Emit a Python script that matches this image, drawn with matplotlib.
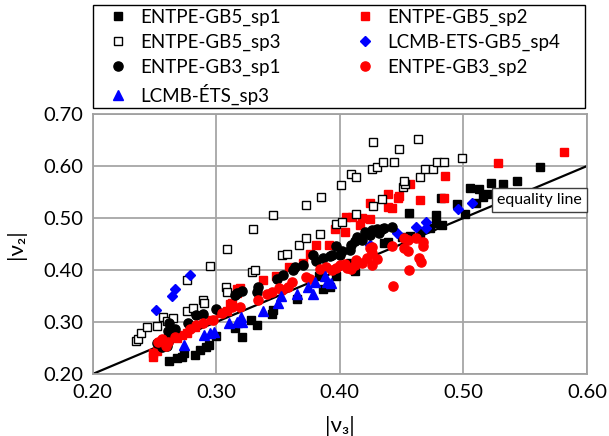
import matplotlib.pyplot as plt
from matplotlib.patches import Rectangle

plt.rcParams['font.family'] = ['Lato', 'DejaVu Sans']

# ENTPE-GB5_sp1 (filled black squares)
gb5_sp1_v3 = [0.262, 0.268, 0.272, 0.274, 0.283, 0.287, 0.292, 0.294, 0.300, 0.315, 0.321, 0.328,
              0.333, 0.345, 0.346, 0.365, 0.383, 0.386, 0.392, 0.397, 0.408, 0.412, 0.436, 0.439,
              0.450, 0.456, 0.457, 0.465, 0.473, 0.478, 0.478, 0.483, 0.482, 0.495, 0.501, 0.505,
              0.510, 0.513, 0.516, 0.519, 0.522, 0.532, 0.543, 0.562]
gb5_sp1_v2 = [0.225, 0.231, 0.233, 0.240, 0.237, 0.246, 0.252, 0.256, 0.273, 0.288, 0.271, 0.304,
              0.294, 0.315, 0.323, 0.344, 0.388, 0.363, 0.367, 0.388, 0.413, 0.398, 0.452, 0.454,
              0.463, 0.510, 0.465, 0.471, 0.481, 0.506, 0.490, 0.487, 0.538, 0.527, 0.508, 0.558,
              0.529, 0.556, 0.540, 0.546, 0.567, 0.565, 0.571, 0.598]

# ENTPE-GB5_sp2 (filled red squares)
gb5_sp2_v3 = [0.249, 0.249, 0.252, 0.254, 0.257, 0.268, 0.272, 0.276, 0.283, 0.296, 0.303, 0.309,
              0.311, 0.313, 0.317, 0.317, 0.319, 0.338, 0.348, 0.359, 0.370, 0.376, 0.381, 0.391,
              0.396, 0.404, 0.405, 0.410, 0.416, 0.418, 0.424, 0.424, 0.439, 0.439, 0.442, 0.447,
              0.448, 0.457, 0.465, 0.484, 0.485, 0.528, 0.581]
gb5_sp2_v2 = [0.233, 0.240, 0.244, 0.252, 0.265, 0.269, 0.275, 0.279, 0.290, 0.304, 0.317, 0.321,
              0.335, 0.337, 0.363, 0.356, 0.365, 0.381, 0.388, 0.406, 0.413, 0.431, 0.448, 0.448,
              0.479, 0.473, 0.502, 0.502, 0.487, 0.500, 0.498, 0.529, 0.546, 0.521, 0.519, 0.538,
              0.542, 0.565, 0.535, 0.538, 0.581, 0.606, 0.627]

# ENTPE-GB5_sp3 (open squares)
gb5_sp3_v3 = [0.235, 0.237, 0.239, 0.244, 0.252, 0.257, 0.260, 0.265, 0.276, 0.281, 0.289, 0.290,
              0.276, 0.295, 0.308, 0.309, 0.309, 0.330, 0.329, 0.331, 0.346, 0.353, 0.357, 0.367,
              0.373, 0.373, 0.384, 0.385, 0.397, 0.402, 0.401, 0.409, 0.413, 0.413, 0.426, 0.430,
              0.427, 0.435, 0.444, 0.448, 0.451, 0.453, 0.463, 0.465, 0.469, 0.475, 0.479, 0.484,
              0.499, 0.434, 0.427, 0.452]
gb5_sp3_v2 = [0.263, 0.267, 0.279, 0.290, 0.292, 0.310, 0.302, 0.308, 0.321, 0.327, 0.342, 0.337,
              0.381, 0.408, 0.367, 0.358, 0.440, 0.479, 0.396, 0.400, 0.506, 0.429, 0.431, 0.448,
              0.462, 0.525, 0.469, 0.540, 0.488, 0.492, 0.563, 0.585, 0.579, 0.508, 0.594, 0.598,
              0.646, 0.608, 0.608, 0.633, 0.560, 0.565, 0.652, 0.579, 0.594, 0.594, 0.608, 0.608,
              0.615, 0.537, 0.523, 0.571]

# LCMB-ETS-GB5_sp4 (blue diamonds)
ets_sp4_v3 = [0.251, 0.264, 0.267, 0.279, 0.424, 0.446, 0.462, 0.470, 0.470, 0.496, 0.507]
ets_sp4_v2 = [0.323, 0.350, 0.363, 0.390, 0.448, 0.471, 0.483, 0.492, 0.481, 0.517, 0.529]

# ENTPE-GB3_sp1 (black circles)
gb3_sp1_v3 = [0.252, 0.256, 0.260, 0.260, 0.261, 0.261, 0.262, 0.265, 0.267, 0.277, 0.284, 0.289,
              0.300, 0.315, 0.317, 0.321, 0.333, 0.334, 0.349, 0.354, 0.362, 0.364, 0.370, 0.378,
              0.381, 0.386, 0.392, 0.394, 0.397, 0.400, 0.402, 0.408, 0.409, 0.412, 0.414, 0.418,
              0.420, 0.426, 0.430, 0.432, 0.434, 0.436, 0.442, 0.424]
gb3_sp1_v2 = [0.260, 0.252, 0.254, 0.269, 0.262, 0.283, 0.298, 0.279, 0.287, 0.298, 0.313, 0.315,
              0.325, 0.352, 0.356, 0.360, 0.358, 0.367, 0.383, 0.390, 0.400, 0.406, 0.410, 0.429,
              0.417, 0.423, 0.427, 0.429, 0.446, 0.429, 0.437, 0.438, 0.448, 0.456, 0.463, 0.458,
              0.473, 0.477, 0.479, 0.471, 0.479, 0.481, 0.483, 0.467]

# ENTPE-GB3_sp2 (red circles)
gb3_sp2_v3 = [0.253, 0.256, 0.259, 0.261, 0.267, 0.279, 0.284, 0.289, 0.297, 0.305, 0.313, 0.319,
              0.334, 0.341, 0.345, 0.351, 0.353, 0.358, 0.361, 0.373, 0.376, 0.384, 0.389, 0.394,
              0.397, 0.400, 0.404, 0.405, 0.406, 0.409, 0.412, 0.413, 0.418, 0.422, 0.424, 0.426,
              0.426, 0.426, 0.430, 0.442, 0.443, 0.452, 0.452, 0.455, 0.455, 0.456, 0.462, 0.464,
              0.466, 0.467, 0.467]
gb3_sp2_v2 = [0.262, 0.267, 0.254, 0.262, 0.271, 0.287, 0.294, 0.298, 0.304, 0.317, 0.329, 0.329,
              0.342, 0.354, 0.358, 0.365, 0.362, 0.367, 0.377, 0.387, 0.383, 0.402, 0.406, 0.400,
              0.404, 0.410, 0.412, 0.408, 0.404, 0.402, 0.410, 0.419, 0.413, 0.423, 0.442, 0.433,
              0.410, 0.444, 0.421, 0.446, 0.369, 0.442, 0.462, 0.437, 0.458, 0.400, 0.462, 0.423,
              0.415, 0.454, 0.446]

# LCMB-ETS_sp3 (blue triangles)
ets_sp3_v3 = [0.274, 0.290, 0.295, 0.298, 0.310, 0.317, 0.320, 0.321, 0.338, 0.350, 0.352, 0.365,
              0.374, 0.378, 0.380, 0.388, 0.390, 0.393]
ets_sp3_v2 = [0.256, 0.275, 0.279, 0.281, 0.298, 0.300, 0.310, 0.300, 0.321, 0.337, 0.350, 0.354,
              0.367, 0.354, 0.377, 0.388, 0.377, 0.375]

W, H = 609, 436
fig = plt.figure(figsize=(W / 100, H / 100), dpi=100)
ax = fig.add_axes([0.1522, 0.1422, 0.8117, 0.5963])

ax.plot([0.2, 0.6], [0.2, 0.6], color='black', lw=1.6, zorder=1)

ms = 6.0
h1, = ax.plot(gb5_sp1_v3, gb5_sp1_v2, 's', color='black', ms=ms, ls='none', zorder=2)
h2, = ax.plot(gb5_sp2_v3, gb5_sp2_v2, 's', color='#ff0000', ms=ms, ls='none', zorder=2)
h3, = ax.plot(gb5_sp3_v3, gb5_sp3_v2, 's', mfc='white', mec='black', mew=1.0, ms=ms, ls='none', zorder=2)
h4, = ax.plot(ets_sp4_v3, ets_sp4_v2, 'D', color='#0000ff', ms=4.8, ls='none', zorder=2)
h5, = ax.plot(gb3_sp1_v3, gb3_sp1_v2, 'o', color='black', ms=6.6, ls='none', zorder=2)
h6, = ax.plot(gb3_sp2_v3, gb3_sp2_v2, 'o', color='#ff0000', ms=6.6, ls='none', zorder=2)
h7, = ax.plot(ets_sp3_v3, ets_sp3_v2, '^', color='#0000ff', ms=6.6, ls='none', zorder=2)

ax.text(0.5616, 0.535, 'equality line', ha='center', va='center', fontsize=11.5, zorder=5,
        bbox=dict(boxstyle='square,pad=0.3', fc='white', ec='#404040', lw=1))

ax.set_xlim(0.2, 0.6)
ax.set_ylim(0.2, 0.7)
ax.set_xticks([0.2, 0.3, 0.4, 0.5, 0.6])
ax.set_yticks([0.2, 0.3, 0.4, 0.5, 0.6, 0.7])
ax.set_xticklabels(['0.20', '0.30', '0.40', '0.50', '0.60'])
ax.set_yticklabels(['0.20', '0.30', '0.40', '0.50', '0.60', '0.70'])
ax.tick_params(length=0, labelsize=14.5, pad=7)
ax.grid(color='#a6a6a6', lw=1.3)
ax.set_axisbelow(True)
for s in ax.spines.values():
    s.set_color('#a0a0a0')
    s.set_linewidth(1.3)

ax.set_xlabel('|ν₃|', fontsize=16, labelpad=11)
ax.set_ylabel('|ν₂|', fontsize=16, labelpad=12)

# legend box drawn by hand, entries placed inside it
fig.patches.append(Rectangle((93 / W, 1 - 108 / H), 492 / W, 103 / H, transform=fig.transFigure,
                             fill=False, ec='black', lw=1.0))
leg = fig.legend([h1, h3, h5, h7, h2, h4, h6],
                 ['ENTPE-GB5_sp1', 'ENTPE-GB5_sp3', 'ENTPE-GB3_sp1', 'LCMB-ÉTS_sp3',
                  'ENTPE-GB5_sp2', 'LCMB-ETS-GB5_sp4', 'ENTPE-GB3_sp2'],
                 ncol=2, loc='center left', bbox_to_anchor=(110.5 / W, 1 - 56.5 / H),
                 fontsize=13.5, frameon=False, borderaxespad=0, borderpad=0,
                 labelspacing=0.41, handlelength=0.8, handletextpad=0.77, columnspacing=4.1)

fig.savefig('out.png', dpi=100)
